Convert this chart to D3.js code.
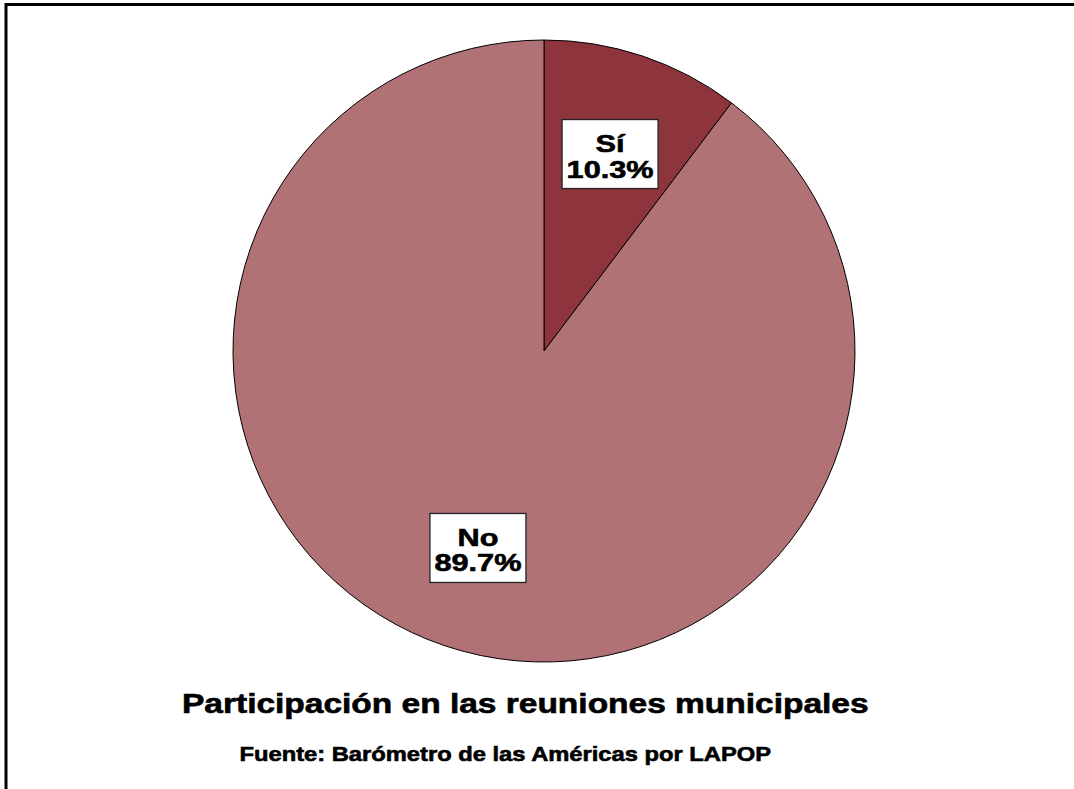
<!DOCTYPE html>
<html>
<head>
<meta charset="utf-8">
<script src="https://cdn.jsdelivr.net/npm/d3@7"></script>
<style>
  html, body { margin: 0; padding: 0; background: #fff; }
  svg { display: block; }
  text { font-family: "Liberation Sans", Arial, sans-serif; font-weight: bold; fill: #000; stroke: #000; stroke-width: 0.6px; }
</style>
</head>
<body>
<svg id="chart" width="1074" height="789"></svg>
<script>
const categories = ["Sí", "No"];
const values = [10.3, 89.7];
const valueLabels = ["10.3%", "89.7%"];
const colors = ["#8E343D", "#B17276"];
const titleText = "Participación en las reuniones municipales";
const sourceText = "Fuente: Barómetro de las Américas por LAPOP";

const svg = d3.select("#chart");
const W = 1074, H = 789;
const cx = 544, cy = 351, R = 311;

// frame (top and left)
svg.append("line").attr("x1", 6).attr("x2", W).attr("y1", 4.5).attr("y2", 4.5)
  .attr("stroke", "#000").attr("stroke-width", 3);
svg.append("line").attr("x1", 6).attr("x2", 6).attr("y1", 3).attr("y2", H)
  .attr("stroke", "#000").attr("stroke-width", 3);

const data = categories.map((c, i) => ({ cat: c, value: values[i], label: valueLabels[i], color: colors[i] }));
const pie = d3.pie().value(d => d.value).sort(null);
const arcs = pie(data);
const arc = d3.arc().innerRadius(0).outerRadius(R);
const labelArc = d3.arc().innerRadius(R * 0.668).outerRadius(R * 0.668);

const g = svg.append("g").attr("transform", `translate(${cx},${cy})`);
g.selectAll("path.slice").data(arcs).join("path")
  .attr("class", "slice")
  .attr("d", arc)
  .attr("fill", d => d.data.color)
  .attr("stroke", "#000")
  .attr("stroke-width", 1);

const boxW = 96, boxH = 69;
arcs.forEach(d => {
  const [lx, ly] = labelArc.centroid(d);
  const lg = g.append("g").attr("transform", `translate(${lx},${ly})`);
  lg.append("rect")
    .attr("x", -boxW / 2).attr("y", -boxH / 2)
    .attr("width", boxW).attr("height", boxH)
    .attr("fill", "#fff").attr("stroke", "#222").attr("stroke-width", 1.3);
  const tg = lg.append("g");
  tg.append("text").attr("text-anchor", "middle").attr("y", -2)
    .attr("font-size", 24).text(d.data.cat);
  const t2 = tg.append("text").attr("text-anchor", "middle").attr("y", 23.5)
    .attr("font-size", 24).text(d.data.label);
  const w = t2.node().getComputedTextLength();
  const s = 87 / w;
  tg.attr("transform", `scale(${s},1)`);
});

function fitText(x, y, size, text, width) {
  const t = svg.append("text").attr("x", 0).attr("y", 0)
    .attr("font-size", size).text(text);
  const w = t.node().getComputedTextLength();
  t.attr("transform", `translate(${x},${y}) scale(${width / w},1)`);
}
fitText(182, 713, 27, titleText, 687);
fitText(239.5, 760.5, 20.5, sourceText, 532);
</script>
</body>
</html>
